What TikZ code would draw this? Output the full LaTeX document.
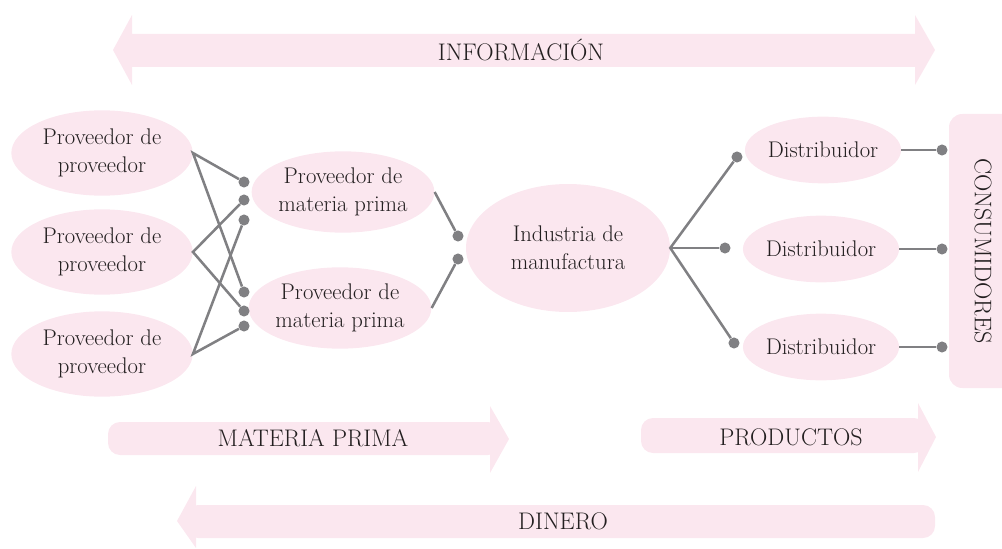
\documentclass[tikz,border=0pt]{standalone}
\usepackage{tikz}
\usetikzlibrary{shapes.geometric}
\definecolor{rosa}{RGB}{251,231,239}
\definecolor{gris}{RGB}{128,128,131}
\definecolor{texto}{RGB}{35,31,32}
\newcommand{\tam}[0]{\fontsize{17}{21}\selectfont}
\newcommand{\tamcap}[0]{\fontsize{18}{21}\selectfont}

\begin{document}
\begin{tikzpicture}[x=0.75pt, y=-0.75pt,
  every node/.style={text=texto, font=\tam},
  elip/.style={ellipse, fill=rosa, inner sep=0pt, align=center},
  prov/.style={elip, minimum width=136pt, minimum height=64pt},
  mprima/.style={elip, minimum width=135pt, minimum height=61pt},
  distr/.style={elip, minimum width=114pt, minimum height=50pt},
  rotulo/.style={font=\tamcap},
  punto/.style={circle, fill=gris, inner sep=0pt, minimum size=8.3pt},
  linea/.style={draw=gris, line width=1.9pt}]
\useasboundingbox (0,0) rectangle (1002,549);

% flechas de fondo
\fill[rosa] (113,50) -- (132,15) -- (132,34) -- (915,34) -- (915,15) -- (935,50)
  -- (915,85) -- (915,67) -- (132,67) -- (132,85) -- cycle;
\fill[rosa, rounded corners=9] (108,422) rectangle (500,455);
\fill[rosa] (490,406) -- (509,439) -- (490,473) -- cycle;
\fill[rosa, rounded corners=9] (641,418) rectangle (926,453);
\fill[rosa] (918,403) -- (936,437) -- (918,472) -- cycle;
\fill[rosa, rounded corners=9] (186,505) rectangle (935,538);
\fill[rosa] (196,486) -- (177,521) -- (196,548) -- cycle;
\fill[rosa, rounded corners=10] (949,114) rectangle (1020,388);

\node at (521,50) [rotulo] (info) {INFORMACIÓN};
\node at (313,438) [rotulo] (mat) {MATERIA PRIMA};
\node at (791,437) [rotulo] (prod) {PRODUCTOS};
\node at (563,521) [rotulo] (din) {DINERO};
\node at (983,251) [rotulo, rotate=-90] (cons) {CONSUMIDORES};

% nodos
\node at (102,153) [prov] (pp1) {Proveedor de\\proveedor};
\node at (102,252) [prov] (pp2) {Proveedor de\\proveedor};
\node at (102,354) [prov] (pp3) {Proveedor de\\proveedor};
\node at (343,192) [mprima] (mp1) {Proveedor de\\materia prima};
\node at (340,308) [mprima] (mp2) {Proveedor de\\materia prima};
\node at (568,248) [elip, minimum width=153pt, minimum height=96pt] (ind) {Industria de\\manufactura};
\node at (823,150) [distr] (d1) {Distribuidor};
\node at (821,249) [distr] (d2) {Distribuidor};
\node at (821,347) [distr] (d3) {Distribuidor};

% puntos
\node at (244,182) [punto] (a1) {};
\node at (244,200) [punto] (a2) {};
\node at (244,220) [punto] (a3) {};
\node at (244,292) [punto] (b1) {};
\node at (244,311) [punto] (b2) {};
\node at (244,326) [punto] (b3) {};
\node at (458,236) [punto] (c1) {};
\node at (458,259) [punto] (c2) {};
\node at (737,157) [punto] (e1) {};
\node at (725,248) [punto] (e2) {};
\node at (734,343) [punto] (e3) {};
\node at (942,150) [punto] (f1) {};
\node at (942,249) [punto] (f2) {};
\node at (942,347) [punto] (f3) {};

% conexiones
\draw[linea] (a1) -- (pp1.east) -- (b1);
\draw[linea] (a2) -- (pp2.east) -- (b2);
\draw[linea] (a3) -- (pp3.east) -- (b3);
\draw[linea] (mp1.east) -- (c1);
\draw[linea] (mp2.east) -- (c2);
\draw[linea] (e1) -- (ind.east) -- (e3);
\draw[linea] (ind.east) -- (e2);
\draw[linea] (d1.east) -- (f1);
\draw[linea] (d2.east) -- (f2);
\draw[linea] (d3.east) -- (f3);
\end{tikzpicture}
\end{document}
